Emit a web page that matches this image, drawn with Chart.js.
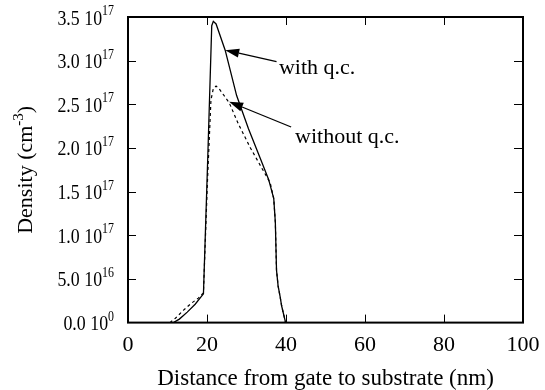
<!DOCTYPE html>
<html>
<head>
<meta charset="utf-8">
<script src="https://cdn.jsdelivr.net/npm/chart.js@4"></script>
<style>
  html, body { margin: 0; padding: 0; background: #fff; }
</style>
</head>
<body>
<canvas id="chart" width="545" height="390"></canvas>
<script>
// depth in nm, density in units of 1e17 cm^-3
const DEPTH_QC = [11.5, 13, 15, 17, 19.1, 20.2, 21.2, 21.6, 22.3, 24.6, 27.5, 30.5, 33.5, 35.6, 36.9, 37.3, 37.6, 38.0, 38.5, 38.9, 39.9];
const DENSITY_QC = [0, 0.04, 0.12, 0.21, 0.33, 1.9, 3.4, 3.45, 3.42, 3.12, 2.6, 2.22, 1.88, 1.64, 1.42, 1.15, 0.6, 0.42, 0.3, 0.19, 0];

const DEPTH_NQC = [10.6, 12, 14, 16, 17.8, 19.1, 20.1, 21.0, 21.6, 22.3, 23.2, 25.6, 28, 31, 34, 36, 36.9, 37.3, 37.6, 38.0, 38.5, 38.9, 39.9];
const DENSITY_NQC = [0, 0.05, 0.14, 0.22, 0.28, 0.34, 1.6, 2.55, 2.68, 2.71, 2.67, 2.52, 2.27, 2.0, 1.76, 1.6, 1.42, 1.15, 0.6, 0.42, 0.3, 0.19, 0];

const X_TICKS = [0, 20, 40, 60, 80, 100];
const Y_TICK_MANTISSA = ['0.0', '5.0', '1.0', '1.5', '2.0', '2.5', '3.0', '3.5'];
const Y_TICK_EXPONENT = ['0', '16', '17', '17', '17', '17', '17', '17'];

// callouts: text anchor, arrow tail and arrow tip, all in data units
const CALLOUTS = [
  { text: 'with q.c.', at: [38.2, 2.85], tail: [37.6, 2.99], tip: [24.6, 3.12] },
  { text: 'without q.c.', at: [42.3, 2.06], tail: [41.3, 2.24], tip: [25.6, 2.53] }
];

const SERIF = '"Liberation Serif", "Times New Roman", serif';

function pts(xs, ys) {
  return xs.map((x, i) => ({ x: x, y: ys[i] }));
}

function squeezed(ctx, text, x, y, sx, align) {
  ctx.save();
  ctx.translate(x, y);
  ctx.scale(sx, 1);
  ctx.textAlign = align;
  ctx.fillText(text, 0, 0);
  ctx.restore();
}

const framePlugin = {
  id: 'frame',
  afterDraw(chart) {
    const { ctx, chartArea: a, scales: { x, y } } = chart;
    ctx.save();
    ctx.strokeStyle = '#000';
    ctx.fillStyle = '#000';

    // box
    ctx.lineWidth = 2;
    ctx.strokeRect(a.left, a.top, a.right - a.left, a.bottom - a.top);

    // inward ticks on all four sides
    ctx.lineWidth = 1;
    ctx.beginPath();
    x.ticks.forEach(t => {
      const px = Math.round(x.getPixelForValue(t.value)) + 0.5;
      if (px <= a.left + 1 || px >= a.right - 1) return;
      ctx.moveTo(px, a.bottom); ctx.lineTo(px, a.bottom - 8);
      ctx.moveTo(px, a.top); ctx.lineTo(px, a.top + 8);
    });
    y.ticks.forEach(t => {
      const py = Math.round(y.getPixelForValue(t.value)) + 0.5;
      if (py <= a.top + 1 || py >= a.bottom - 1) return;
      ctx.moveTo(a.left, py); ctx.lineTo(a.left + 8, py);
      ctx.moveTo(a.right, py); ctx.lineTo(a.right - 9, py);
    });
    ctx.stroke();

    // y tick labels like "3.5 10^17"
    const sx = 0.85;
    const right = a.left - 14;
    ctx.textBaseline = 'alphabetic';
    y.ticks.forEach((t, i) => {
      const py = y.getPixelForValue(t.value);
      ctx.font = '14px ' + SERIF;
      const exp = Y_TICK_EXPONENT[i];
      const ew = ctx.measureText(exp).width * sx;
      squeezed(ctx, exp, right - ew, py - 2, sx, 'left');
      ctx.font = '21px ' + SERIF;
      const tw = ctx.measureText('10').width * sx;
      squeezed(ctx, '10', right - ew - tw, py + 7.5, sx, 'left');
      squeezed(ctx, Y_TICK_MANTISSA[i], right - ew - tw - 4.5, py + 7.5, sx, 'right');
    });

    // rotated y title with superscript
    ctx.save();
    ctx.translate(31.5, (a.top + a.bottom) / 2);
    ctx.rotate(-Math.PI / 2);
    ctx.font = '22px ' + SERIF;
    const main = 'Density (cm';
    const mw = ctx.measureText(main).width;
    const cw = ctx.measureText(')').width;
    ctx.font = '15px ' + SERIF;
    const sw = ctx.measureText('-3').width;
    let cx = -(mw + sw + cw) / 2;
    ctx.textAlign = 'left';
    ctx.font = '22px ' + SERIF;
    ctx.fillText(main, cx, 0);
    ctx.font = '15px ' + SERIF;
    ctx.fillText('-3', cx + mw, -9);
    ctx.font = '22px ' + SERIF;
    ctx.fillText(')', cx + mw + sw, 0);
    ctx.restore();

    // callout arrows and text
    ctx.font = '22px ' + SERIF;
    ctx.textAlign = 'left';
    ctx.lineWidth = 1.3;
    CALLOUTS.forEach(c => {
      const x0 = x.getPixelForValue(c.tail[0]), y0 = y.getPixelForValue(c.tail[1]);
      const x1 = x.getPixelForValue(c.tip[0]), y1 = y.getPixelForValue(c.tip[1]);
      const ang = Math.atan2(y1 - y0, x1 - x0);
      const len = 14, half = 4.5;
      const bx = x1 - len * Math.cos(ang), by = y1 - len * Math.sin(ang);
      ctx.beginPath();
      ctx.moveTo(x0, y0);
      ctx.lineTo(bx, by);
      ctx.stroke();
      ctx.beginPath();
      ctx.moveTo(x1, y1);
      ctx.lineTo(bx + half * Math.sin(ang), by - half * Math.cos(ang));
      ctx.lineTo(bx - half * Math.sin(ang), by + half * Math.cos(ang));
      ctx.closePath();
      ctx.fill();
      ctx.fillText(c.text, x.getPixelForValue(c.at[0]), y.getPixelForValue(c.at[1]));
    });
    ctx.restore();
  }
};

new Chart(document.getElementById('chart'), {
  type: 'line',
  data: {
    datasets: [
      {
        label: 'with q.c.',
        data: pts(DEPTH_QC, DENSITY_QC),
        borderColor: '#000',
        borderWidth: 1.3,
        pointRadius: 0,
        tension: 0,
        fill: false
      },
      {
        label: 'without q.c.',
        data: pts(DEPTH_NQC, DENSITY_NQC),
        borderColor: '#000',
        borderWidth: 1.2,
        borderDash: [3, 3],
        pointRadius: 0,
        tension: 0,
        fill: false
      }
    ]
  },
  options: {
    responsive: false,
    animation: false,
    devicePixelRatio: 1,
    layout: { padding: { left: 128, right: 22, top: 17, bottom: 0 } },
    plugins: { legend: { display: false }, tooltip: { enabled: false } },
    scales: {
      x: {
        type: 'linear',
        min: 0,
        max: 100,
        afterBuildTicks: s => { s.ticks = X_TICKS.map(v => ({ value: v })); },
        // let the "100" label hang into the right margin
        afterFit: s => { s.paddingRight = 0; },
        grid: { display: false, drawTicks: false },
        border: { display: false },
        ticks: { color: '#000', padding: 9, maxRotation: 0, font: { family: SERIF, size: 22 } },
        title: {
          display: true,
          text: 'Distance from gate to substrate (nm)',
          color: '#000',
          padding: { top: 0, bottom: 0 },
          font: { family: SERIF, size: 23, lineHeight: 1 }
        }
      },
      y: {
        min: 0,
        max: 3.5,
        ticks: { stepSize: 0.5, display: false },
        grid: { display: false, drawTicks: false },
        border: { display: false }
      }
    }
  },
  plugins: [framePlugin]
});
</script>
</body>
</html>
